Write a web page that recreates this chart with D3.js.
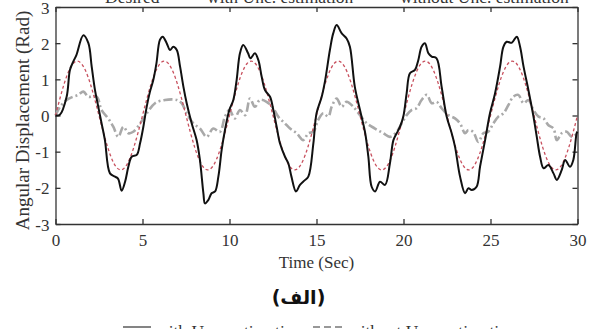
<!DOCTYPE html>
<html>
<head>
<meta charset="utf-8">
<script src="https://cdn.jsdelivr.net/npm/d3@7"></script>
<style>
  html, body { margin: 0; padding: 0; background: #fff; }
  svg { display: block; }
</style>
</head>
<body>
<div id="chart"></div>
<script>
// time axis ticks / value axis ticks
const xTicks = [0, 5, 10, 15, 20, 25, 30];
const yTicks = [-3, -2, -1, 0, 1, 2, 3];

// desired trajectory (red dashed), read every 0.5 s
const desiredT = d3.range(0, 30.01, 0.5);
const desiredV = [
  0, 0.88, 1.43, 1.43, 0.88, 0, -0.88, -1.43, -1.43, -0.88,
  0, 0.88, 1.43, 1.43, 0.88, 0, -0.88, -1.43, -1.43, -0.88,
  0, 0.88, 1.43, 1.43, 0.88, 0, -0.88, -1.43, -1.43, -0.88,
  0, 0.88, 1.43, 1.43, 0.88, 0, -0.88, -1.43, -1.43, -0.88,
  0, 0.88, 1.43, 1.43, 0.88, 0, -0.88, -1.43, -1.43, -0.88,
  0, 0.88, 1.43, 1.43, 0.88, 0, -0.88, -1.43, -1.43, -0.88,
  0
];

// with Unc. estimation (black solid)
const withT = [
  0, 0.25, 0.64, 0.83, 1.02, 1.2, 1.6, 1.89, 2.08, 2.27, 2.46, 2.65, 2.84, 3.13, 3.42, 3.6, 3.8,
  4.0, 4.19, 4.38, 4.67, 4.86, 5.05, 5.24, 5.43, 5.62, 5.8, 6.0, 6.16, 6.39, 6.58, 6.77, 6.97,
  7.16, 7.35, 7.54, 7.83, 8.11, 8.3, 8.5, 8.59, 8.78, 8.97, 9.17, 9.36, 9.55, 9.74, 9.99, 10.22,
  10.41, 10.6, 10.79, 11.07, 11.2, 11.46, 11.66, 11.85, 12.04, 12.33, 12.52, 12.71, 12.9, 13.19,
  13.38, 13.56, 13.82, 14.05, 14.3, 14.53, 14.82, 15.0, 15.3, 15.5, 15.77, 15.96, 16.16, 16.45,
  16.73, 16.92, 17.2, 17.5, 17.8, 17.98, 18.17, 18.37, 18.65, 18.94, 19.22, 19.42, 19.61, 19.8,
  19.99, 20.18, 20.37, 20.66, 20.85, 21.04, 21.23, 21.43, 21.62, 21.9, 22.19, 22.48, 22.77, 22.96,
  23.25, 23.54, 23.73, 23.92, 24.2, 24.4, 24.69, 24.97, 25.26, 25.55, 25.74, 25.93, 26.22, 26.51,
  26.7, 26.9, 27.18, 27.47, 27.66, 27.85, 28.05, 28.33, 28.62, 28.81, 29.09, 29.29, 29.57, 29.76,
  29.95, 30.0
];
const withV = [
  0, 0.02, 0.52, 1.26, 1.49, 1.67, 2.22, 2.0, 1.35, 0.7, 0.24, -0.22, -0.68, -1.6, -1.69, -1.75, -2.08,
  -1.83, -1.41, -1.14, -1.09, -0.77, -0.31, 0.24, 0.66, 0.98, 1.44, 2.09, 2.18, 2.0, 1.81, 1.9, 1.81,
  1.35, 0.8, 0.34, -0.22, -0.68, -1.23, -2.15, -2.43, -2.34, -2.15, -2.1, -1.69, -0.95, -0.4, 0.15, 0.43,
  0.98, 1.72, 1.95, 1.72, 1.58, 1.72, 1.53, 1.07, 0.7, 0.52, 0.15, -0.31, -0.77, -1.14,
  -1.32, -1.69, -2.1, -1.92, -1.8, -1.69, -0.77, 0.06, 0.52, 0.98, 1.81, 2.27, 2.5, 2.27,
  2.13, 1.9, 0.8, 0.15, -0.49, -1.14, -1.97, -2.1, -1.83, -1.92, -1.32, -0.68, -0.49, -0.31,
  -0.03, 0.61, 1.17, 1.26, 1.53, 1.9, 2.0, 1.72, 1.63, 1.58, 0.8, -0.03, -0.49, -0.86,
  -1.69, -2.15, -2.01, -2.06, -1.97, -1.41, -0.68, 0.06, 0.61, 1.35, 1.9, 2.04, 2.01, 2.18,
  1.9, 1.35, 0.7, -0.03, -0.59, -1.14, -1.46, -1.37, -1.6, -1.78, -1.51, -1.23, -1.42, -1.23,
  -0.49, -0.45
];

// without Unc. estimation (gray dash-dot)
const withoutT = [
  0, 0.26, 0.64, 1.02, 1.31, 1.6, 1.89, 2.36, 2.65, 3.03, 3.32, 3.61, 3.9, 4.19, 4.47, 4.86,
  5.24, 5.72, 6.29, 6.97, 7.25, 7.54, 7.92, 8.3, 8.69, 9.06, 9.45, 9.74, 10.0, 10.3, 10.6, 10.9,
  11.18, 11.46, 11.75, 12.13, 12.52, 12.8, 13.19, 13.48, 13.86, 14.24, 14.53, 14.82, 15.1, 15.39,
  15.68, 15.87, 16.16, 16.45, 16.73, 17.12, 17.5, 17.9, 18.36, 18.84, 19.22, 19.61, 19.9, 20.18,
  20.46, 20.75, 21.04, 21.34, 21.62, 21.9, 22.19, 22.58, 22.96, 23.25, 23.54, 23.73, 24.0, 24.3,
  24.59, 24.87, 25.16, 25.45, 25.74, 26.03, 26.31, 26.6, 26.9, 27.18, 27.47, 27.76, 28.05, 28.33,
  28.62, 28.81, 29.09, 29.38, 29.67, 30.0
];
const withoutV = [
  0, 0.24, 0.43, 0.52, 0.57, 0.66, 0.52, 0.52, 0.15, -0.08, -0.31, -0.59, -0.31, -0.49, -0.45, -0.22,
  0.06, 0.34, 0.43, 0.43, 0.34, 0.06, -0.22, -0.36, -0.59, -0.36, -0.45, -0.03, 0.15, -0.08, 0.15, 0.01,
  0.47, 0.24, 0.43, 0.38, 0.2, -0.03, -0.22, -0.36, -0.49, -0.68, -0.49, -0.45, -0.12, 0.06,
  -0.03, 0.24, 0.47, 0.24, 0.38, 0.24, 0.01, -0.22, -0.36, -0.49, -0.59, -0.45, -0.22, 0.01,
  0.15, 0.2, 0.43, 0.57, 0.34, 0.38, 0.2, 0.01, -0.08, -0.22, -0.49, -0.4, -0.45, -0.73,
  -0.49, -0.45, -0.22, -0.03, 0.06, 0.29, 0.52, 0.57, 0.34, 0.43, 0.15, -0.03, -0.08, -0.27,
  -0.36, -0.68, -0.49, -0.45, -0.59, -0.49
];

const legendTop = ['Desired', 'with Unc. estimation', 'without Unc. estimation'];
const legendBottom = ['with Unc. estimation', 'without Unc. estimation'];

const W = 595, H = 329;
const margin = { top: 7, right: 17.5, bottom: 105, left: 55.5 };
const width = W - margin.left - margin.right;
const height = H - margin.top - margin.bottom;
const serif = '"Liberation Serif", "Times New Roman", serif';

const svg = d3.select('#chart').append('svg')
  .attr('width', W).attr('height', H);

const chart = svg.append('g')
  .attr('transform', `translate(${margin.left},${margin.top})`);

const xScale = d3.scaleLinear().domain([0, 30]).range([0, width]);
const yScale = d3.scaleLinear().domain([-3, 3]).range([height, 0]);
const fmt = d => String(d);

// axes, ticks pointing inward
chart.append('g').attr('class', 'x axis')
  .attr('transform', `translate(0,${height})`)
  .call(d3.axisBottom(xScale).tickValues(xTicks).tickFormat(fmt)
    .tickSizeInner(-5).tickSizeOuter(0).tickPadding(10));
chart.append('g').attr('class', 'x axis top')
  .call(d3.axisTop(xScale).tickValues(xTicks).tickFormat('')
    .tickSizeInner(-5).tickSizeOuter(0));
chart.append('g').attr('class', 'y axis')
  .call(d3.axisLeft(yScale).tickValues(yTicks).tickFormat(fmt)
    .tickSizeInner(-5).tickSizeOuter(0).tickPadding(6));
chart.append('g').attr('class', 'y axis right')
  .attr('transform', `translate(${width},0)`)
  .call(d3.axisRight(yScale).tickValues(yTicks).tickFormat('')
    .tickSizeInner(-5).tickSizeOuter(0));

chart.selectAll('.axis')
  .attr('font-family', serif)
  .attr('font-size', 17);
chart.selectAll('.axis path, .axis line')
  .attr('stroke', '#333').attr('stroke-width', 1.3);
chart.selectAll('.axis text').attr('fill', '#333');
chart.selectAll('.y.axis text').attr('dy', '0.36em');

// series
const series = [
  { t: withoutT, v: withoutV, color: '#a9a9a9', w: 2.6, dash: '9,3,2,3', curve: d3.curveCatmullRom },
  { t: desiredT, v: desiredV, color: '#c8505e', w: 1.3, dash: '3,2.5', curve: d3.curveNatural },
  { t: withT, v: withV, color: '#111', w: 2, dash: null, curve: d3.curveCatmullRom }
];

series.forEach(s => {
  const pts = s.t.map((t, i) => [t, s.v[i]]);
  const line = d3.line()
    .x(d => xScale(d[0]))
    .y(d => yScale(d[1]))
    .curve(s.curve);
  chart.append('path')
    .datum(pts)
    .attr('d', line)
    .attr('fill', 'none')
    .attr('stroke', s.color)
    .attr('stroke-width', s.w)
    .attr('stroke-dasharray', s.dash)
    .attr('stroke-linejoin', 'round');
});

// axis labels
chart.append('text')
  .attr('x', width / 2).attr('y', height + 44)
  .attr('text-anchor', 'middle')
  .attr('font-family', serif).attr('font-size', 17).attr('fill', '#333')
  .text('Time (Sec)');

svg.append('text')
  .attr('transform', `translate(29,${margin.top + height / 2 + 5}) rotate(-90)`)
  .attr('text-anchor', 'middle')
  .attr('font-family', serif).attr('font-size', 19).attr('fill', '#333')
  .text('Angular Displacement (Rad)');

// caption
svg.append('text')
  .attr('x', W / 2 + 1).attr('y', 304)
  .attr('text-anchor', 'middle')
  .attr('font-family', '"DejaVu Sans", sans-serif').attr('font-size', 19).attr('font-weight', 'bold')
  .attr('fill', '#111')
  .text('(الف)');

// top legend (cut off by the picture edge, as in the source)
const topX = [105, 207, 400];
svg.selectAll('.legTop').data(legendTop).enter().append('text')
  .attr('class', 'legTop')
  .attr('x', (d, i) => topX[i]).attr('y', 2.5)
  .attr('font-family', serif).attr('font-size', 17.5).attr('fill', '#333')
  .text(d => d);

// bottom legend (cut off)
const bot = svg.append('g');
bot.append('line').attr('x1', 123).attr('x2', 151).attr('y1', 327).attr('y2', 327)
  .attr('stroke', '#333').attr('stroke-width', 1.2);
bot.append('line').attr('x1', 313).attr('x2', 344).attr('y1', 327).attr('y2', 327)
  .attr('stroke', '#333').attr('stroke-width', 1.2).attr('stroke-dasharray', '7,4');
const botX = [156, 348];
bot.selectAll('text').data(legendBottom).enter().append('text')
  .attr('x', (d, i) => botX[i]).attr('y', 336.5)
  .attr('font-family', serif).attr('font-size', 17.5).attr('fill', '#333')
  .text(d => d);
</script>
</body>
</html>
